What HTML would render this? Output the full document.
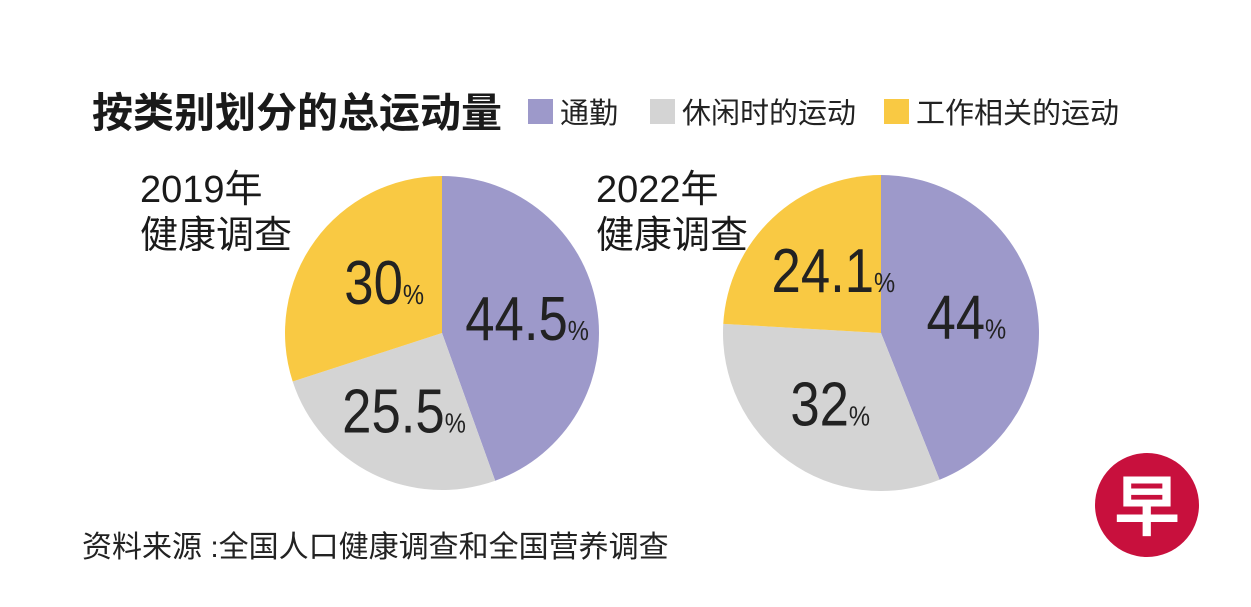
<!DOCTYPE html>
<html><head><meta charset="utf-8"><style>
body{margin:0;width:1251px;height:607px;background:#fff;overflow:hidden;font-family:"Liberation Sans","Noto Sans CJK SC",sans-serif;}
svg{position:absolute;left:0;top:0}
</style></head><body>
<svg width="1251" height="607">
<text x="92" y="127" font-size="41" font-weight="bold" fill="#1a1a1a" font-family="Liberation Sans, Noto Sans CJK SC, sans-serif">按类别划分的总运动量</text>
<g id="legend"></g>
<g id="pies"></g>
<text x="82" y="557" font-size="30" fill="#222" font-family="Liberation Sans, Noto Sans CJK SC, sans-serif">资料来源 :全国人口健康调查和全国营养调查</text>
<g>
<circle cx="1147" cy="505" r="52" fill="#c8103d"/>
<text x="1147" y="530" text-anchor="middle" font-size="66" font-weight="bold" fill="#fff" font-family="Noto Sans CJK SC, sans-serif">早</text>
</g>
</svg>
<script>
const categories=["通勤","休闲时的运动","工作相关的运动"];
const colors=["#9d99ca","#d4d4d4","#f9c943"];
const values2019=[44.5,25.5,30];
const values2022=[44,32,24.1];
const labels2019=["44.5","25.5","30"];
const labels2022=["44","32","24.1"];
const titles=[["2019年","健康调查"],["2022年","健康调查"]];
const NS="http://www.w3.org/2000/svg";
const svg=document.querySelector('svg');
function mk(t,a,p){const e=document.createElementNS(NS,t);for(const k in a)e.setAttribute(k,a[k]);(p||svg).appendChild(e);return e;}
const lg=document.getElementById('legend');
const lx=[528,650,884];
categories.forEach((c,i)=>{
 const r=mk('rect',{x:lx[i],y:99,width:25,height:25,fill:colors[i]},lg);
 
 
 const t=mk('text',{x:lx[i]+32,y:123,'font-size':29,fill:'#222'},lg);
 t.textContent=c;
 
 
});
const pies=[{cx:442,cy:333,r:157,vals:values2019,labs:labels2019,tx:140},{cx:881,cy:333,r:158,vals:values2022,labs:labels2022,tx:596}];
pies.forEach((p,pi)=>{
 const g=mk('g',{},document.getElementById('pies'));
 
 
 const tot=p.vals.reduce((a,b)=>a+b,0);
 let acc=0;
 p.vals.forEach((v,i)=>{
  const a0=acc/tot*2*Math.PI, a1=(acc+v)/tot*2*Math.PI; acc+=v;
  const x0=p.cx+p.r*Math.sin(a0),y0=p.cy-p.r*Math.cos(a0),x1=p.cx+p.r*Math.sin(a1),y1=p.cy-p.r*Math.cos(a1);
  const s=mk('path',{d:`M${p.cx},${p.cy}L${x0},${y0}A${p.r},${p.r} 0 ${a1-a0>Math.PI?1:0} 1 ${x1},${y1}Z`,fill:colors[i]},g);
  
  
  const am=(a0+a1)/2, rr=p.r*0.55;
  const lxp=p.cx+rr*Math.sin(am)+(i===2?12:0), lyp=p.cy-rr*Math.cos(am);
  const t=mk('text',{x:0,y:0,'text-anchor':'middle',fill:'#222','font-family':'Liberation Sans, sans-serif','font-size':62,transform:`translate(${lxp},${lyp+22}) scale(0.85,1)`},g);
  t.textContent=p.labs[i];
  const ts=mk('tspan',{'font-size':28},t); ts.textContent='%';
  
  
 });
 titles[pi].forEach((l,j)=>{
  const t=mk('text',{x:p.tx,y:202+j*46,'font-size':38,fill:'#1a1a1a'});
  t.textContent=l;
  
  
 });
});
</script>
</body></html>
